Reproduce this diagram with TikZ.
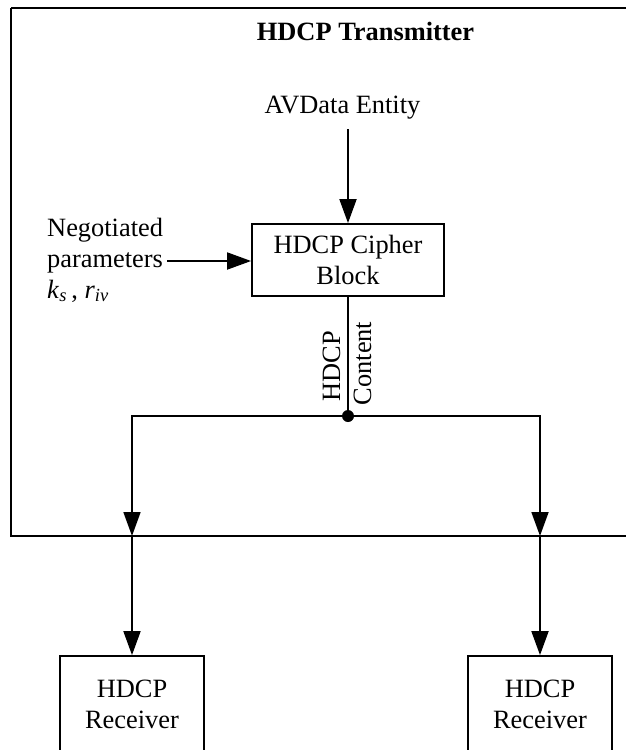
\documentclass[tikz,border=0pt]{standalone}
\usepackage{fontspec}
\setmainfont{Liberation Serif}
\usetikzlibrary{arrows.meta}
\begin{document}
\begin{tikzpicture}[x=1pt,y=-1pt,
  font=\fontsize{26.4pt}{31pt}\selectfont,
  ln/.style={line width=1.8pt},
  arr/.style={ln,-{Triangle[length=24pt,width=17pt]}},
  box/.style={draw,ln,inner sep=0pt,align=center},
  txt/.style={inner sep=0pt}]
\useasboundingbox (0,0) rectangle (626,750);
% outer transmitter frame (extends past the right edge)
\draw[ln] (11,8) -- (660,8) (11,8) -- (11,536) -- (660,536);
\node[txt,anchor=base,font=\fontsize{26.4pt}{31pt}\selectfont\bfseries] (title) at (365.5,40) {HDCP Transmitter};
\node[txt,anchor=base] (av) at (342.5,113) {AVData Entity};
\node[box,minimum width=192pt,minimum height=72pt] (cipher) at (348,260) {HDCP Cipher\\Block};
\node[txt,anchor=base west] (neg) at (47,236) {Negotiated};
\node[txt,anchor=base west] (par) at (47,267) {parameters};
\node[txt,anchor=base west] (ks) at (47,298) {\textit{k}\textsubscript{\textit{s}}\,, \textit{r}\textsubscript{\textit{iv}}};
\coordinate (avs) at (348,129);
\coordinate (pa) at (167,261);
\draw[arr] (avs) -- (cipher.north);
\draw[arr] (pa) -- (pa -| cipher.west);
\coordinate (j) at (348,416);
\draw[ln] (cipher.south) -- (j);
\node[txt,rotate=90] (lh) at (331.5,366) {HDCP};
\node[txt,rotate=90] (lc) at (362.5,363.5) {Content};
\node[box,minimum width=144pt,minimum height=96pt] (rx1) at (132,704) {HDCP\\Receiver};
\node[box,minimum width=144pt,minimum height=96pt] (rx2) at (540,704) {HDCP\\Receiver};
\coordinate (b1) at (132,536);
\coordinate (b2) at (540,536);
\draw[arr] (j) -| (b1);
\draw[arr] (j) -| (b2);
\draw[arr] (b1) -- (rx1.north);
\draw[arr] (b2) -- (rx2.north);
\fill (j) circle (6pt);
\end{tikzpicture}
\end{document}
